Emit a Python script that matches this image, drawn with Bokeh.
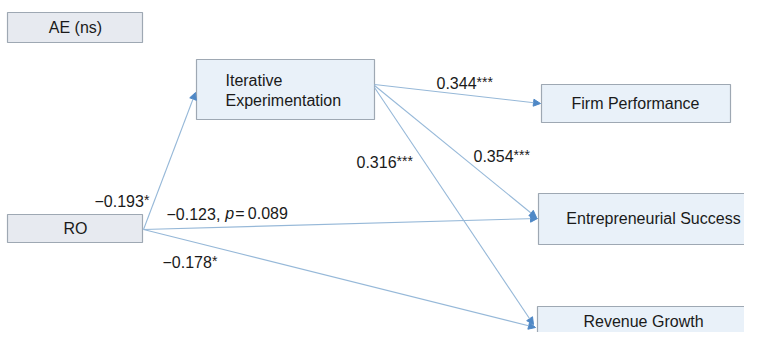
from bokeh.plotting import figure
from bokeh.models import Range1d, Arrow, NormalHead
from bokeh.core.properties import value
from bokeh.embed import file_html
from bokeh.resources import INLINE

# ---- data ----
node_ids = ["AE", "IE", "FP", "ES", "RO", "RG"]
node_labels = ["AE (ns)", "Iterative\nExperimentation", "Firm Performance",
               "Entrepreneurial Success", "RO", "Revenue Growth"]
edge_from = ["RO", "RO", "RO", "IE", "IE", "IE"]
edge_to = ["IE", "ES", "RG", "FP", "ES", "RG"]
edge_coef = ["\u22120.193", "\u22120.123,", "\u22120.178", "0.344", "0.354", "0.316"]
edge_sig = ["*", "", "*", "***", "***", "***"]
edge_p = ["", "0.089", "", "", "", ""]

# ---- layout (pixel positions of the reference) ----
boxes = {  # left, right, top, bottom, fill
    "AE": (7, 142, 12, 42, "#e7eaf0"),
    "IE": (196, 374, 59, 119, "#e9f1f9"),
    "FP": (541, 730, 84, 122, "#e9f1f9"),
    "ES": (538, 790, 193, 244, "#e9f1f9"),
    "RO": (7, 142, 214, 242, "#e7eaf0"),
    "RG": (537, 752, 306, 370, "#e9f1f9"),
}
text_pos = {  # x, y, align
    "AE": (75, 27, "center"), "IE": (225, 90, "left"), "FP": (635, 103, "center"),
    "ES": (653, 218, "center"), "RO": (75, 228, "center"), "RG": (643, 321, "center"),
}
edge_geom = [  # start, end
    ((143, 229), (195, 92)),
    ((143, 229), (537, 218)),
    ((143, 229), (535, 327)),
    ((374, 84), (540, 103)),
    ((374, 85), (536, 217)),
    ((374, 87), (533, 324)),
]
label_pos = [  # x, y (left of number)
    (94, 200), (166, 213), (162, 261), (436, 82), (473, 155), (356, 161),
]
FS = 16
cw = {"0": .556, "1": .556, "2": .556, "3": .556, "4": .556, "5": .556, "6": .556,
      "7": .556, "8": .556, "9": .556, ".": .278, ",": .278, "\u2212": .584}


def tw(s):
    return sum(cw.get(c, .556) for c in s) * FS


p = figure(width=744, height=332, output_backend="svg", toolbar_location=None,
           x_range=Range1d(0, 744), y_range=Range1d(332, 0), min_border=0)
p.axis.visible = False
p.grid.visible = False
p.outline_line_color = None
p.background_fill_color = "white"

FONT = value("Liberation Sans")

# boxes
for nid in node_ids:
    l, r, t, b, fc = boxes[nid]
    p.quad(left=l, right=r, top=t, bottom=b, fill_color=fc,
           line_color="#9ea8b3", line_width=1.2)

# node labels
for nid, lab in zip(node_ids, node_labels):
    x, y, al = text_pos[nid]
    p.text(x=[x], y=[y], text=[lab], text_font=FONT, text_font_size=f"{FS}px",
           text_align=al, text_baseline="middle", text_color="#1a1a1a",
           text_line_height=1.2)

# arrows
for (s, e) in edge_geom:
    p.add_layout(Arrow(x_start=s[0], y_start=s[1], x_end=e[0], y_end=e[1],
                       line_color="#96b8d8", line_width=1.1,
                       end=NormalHead(size=7, fill_color="#4f88c6", line_color="#4f88c6")))

# edge labels
for (x, y), c, sg, pv in zip(label_pos, edge_coef, edge_sig, edge_p):
    p.text(x=[x], y=[y], text=[c], text_font=FONT, text_font_size=f"{FS}px",
           text_align="left", text_baseline="middle", text_color="#1a1a1a")
    w = tw(c)
    if sg:
        p.text(x=[x + w], y=[y - 1], text=[sg], text_font=FONT, text_font_size="14px",
               text_align="left", text_baseline="middle", text_color="#1a1a1a")
    if pv:
        p.text(x=[x + w + 5], y=[y], text=["p"], text_font=FONT, text_font_size=f"{FS}px",
               text_font_style="italic", text_align="left", text_baseline="middle",
               text_color="#1a1a1a")
        p.text(x=[x + w + 15], y=[y], text=["=\u2009" + pv], text_font=FONT,
               text_font_size=f"{FS}px", text_align="left", text_baseline="middle",
               text_color="#1a1a1a")

open("out.html", "w").write(file_html(p, INLINE))
